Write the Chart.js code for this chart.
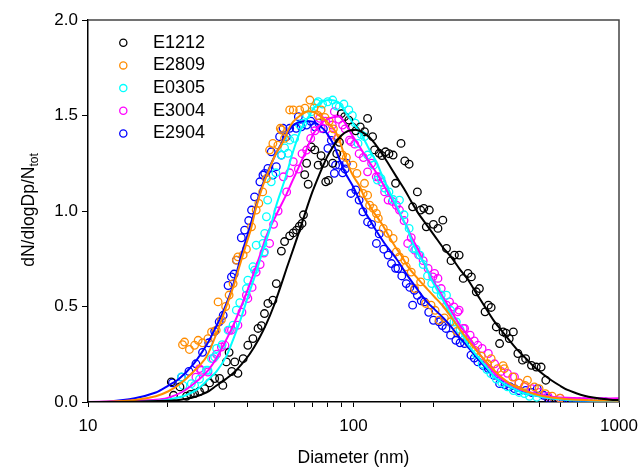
<!DOCTYPE html>
<html>
<head>
<meta charset="utf-8">
<script src="https://cdn.jsdelivr.net/npm/chart.js@4.4.1/dist/chart.umd.min.js"></script>
<style>
  html, body { margin: 0; padding: 0; background: #fff; }
  #wrap { width: 638px; height: 469px; }
</style>
</head>
<body>
<div id="wrap"><canvas id="psd" width="638" height="469"></canvas></div>
<script>
// Size distributions, normalised (dN/dlogDp/Ntot) vs mobility diameter in nm
const seriesNames = ["E1212", "E2809", "E0305", "E3004", "E2904"];
const seriesColors = ["#000000", "#FF8C00", "#00FFFF", "#FF00FF", "#0000FF"];
const xTickLabels = [10, 100, 1000];

// measured points [diameter, value]
const ptsE1212 = [[20.6,0.105],[21,0.035],[22.2,0.079],[23.5,0.03],[24.3,0.04],[25.2,0.044],[26.3,0.055],[27.5,0.07],[28.7,0.1],[30,0.123],[31.3,0.123],[32.2,0.087],[33.2,0.21],[34,0.26],[34.8,0.16],[35.7,0.21],[36.7,0.15],[38.4,0.227],[40,0.297],[41.8,0.332],[43.7,0.385],[45,0.4],[46.2,0.463],[47.6,0.516],[49.7,0.533],[51.2,0.62],[53.5,0.79],[55,0.84],[57.5,0.87],[59.3,0.885],[61,0.9],[62.5,0.92],[64,0.935],[64.8,0.98],[65.5,1.19],[66.6,1.25],[67.5,1.14],[69.3,1.335],[71.5,1.32],[73.6,1.24],[75.5,1.29],[77.5,1.25],[78.6,1.153],[80.5,1.16],[83.5,1.25],[86.5,1.3],[88.5,1.36],[90,1.51],[92.6,1.494],[96,1.476],[99,1.44],[102,1.42],[106,1.44],[110,1.415],[113,1.485],[118,1.389],[120,1.32],[125,1.302],[128,1.29],[132,1.31],[136,1.3],[141,1.293],[144,1.145],[151,1.354],[156,1.262],[162,1.245],[167,1.022],[174,1.1],[179,1.005],[184,1.014],[188,0.917],[193,1.005],[200,0.93],[208,0.909],[217,0.952],[224,0.804],[233,0.74],[240,0.769],[250,0.769],[259,0.647],[270,0.673],[278,0.655],[290,0.577],[298,0.594],[313,0.472],[322,0.507],[330,0.495],[345,0.393],[355,0.306],[366,0.367],[375,0.36],[386,0.332],[400,0.367],[416,0.254],[433,0.219],[445,0.227],[468,0.192],[488,0.183],[509,0.183],[530,0.114],[545,0.0],[558,0.0]];
const ptsE2809 = [[22.7,0.3],[23.1,0.314],[24.1,0.275],[25.2,0.297],[26,0.323],[27,0.31],[28.3,0.332],[29.2,0.367],[30.4,0.376],[30.9,0.524],[31.8,0.43],[33,0.5],[34,0.56],[35.2,0.62],[36.2,0.743],[36.7,0.76],[38.4,0.77],[39.5,0.8],[41.3,0.917],[43,1.005],[44,1.04],[45.5,1.1],[47,1.17],[48.3,1.319],[49.7,1.354],[51.9,1.345],[53,1.433],[53.5,1.424],[55,1.38],[57.5,1.529],[59.3,1.529],[62.7,1.529],[65.6,1.538],[68.5,1.581],[71,1.54],[73.5,1.5],[75.5,1.529],[78,1.49],[81,1.47],[84,1.43],[87,1.38],[91,1.293],[94,1.28],[99.5,1.24],[103,1.197],[108.7,1.092],[110,1.145],[113,1.083],[115,1.03],[118.7,1.014],[122,0.987],[124,0.961],[129.5,0.909],[135,0.883],[141,0.856],[145,0.786],[149,0.76],[156,0.743],[158,0.708],[165,0.68],[170,0.594],[179,0.629],[187,0.516],[196,0.507],[203,0.48],[210,0.428],[220,0.44],[232,0.42],[245,0.37],[258,0.35],[272,0.31],[287,0.27],[303,0.24],[320,0.2],[330,0.227],[349,0.175],[366,0.19],[370,0.175],[398,0.131],[420,0.1],[443,0.087],[452,0.114],[480,0.079],[500,0.07],[528,0.044],[560,0.03],[600,0.02]];
const ptsE0305 = [[22.5,0.131],[22.8,0.087],[24.5,0.096],[25.2,0.087],[26.3,0.12],[27.9,0.166],[28.3,0.166],[29.2,0.227],[30,0.236],[30.5,0.28],[32,0.3],[33.7,0.376],[35.2,0.402],[36.2,0.481],[37.3,0.52],[39.5,0.594],[40,0.638],[41.8,0.708],[42.4,0.69],[43,0.821],[45.6,0.83],[46.2,0.786],[46.3,0.883],[47,0.97],[47.5,1.057],[49,1.153],[51,1.2],[53.5,1.293],[55,1.33],[56.7,1.302],[57.5,1.371],[60,1.38],[62.7,1.45],[64.5,1.46],[66.6,1.503],[69.5,1.52],[72.6,1.564],[73.6,1.572],[76.5,1.56],[80,1.572],[83.5,1.581],[86,1.55],[88.4,1.546],[92,1.56],[96,1.529],[99,1.5],[101.5,1.46],[104,1.354],[107,1.4],[110,1.389],[113,1.293],[116,1.276],[119,1.24],[123,1.162],[127,1.17],[131,1.12],[136,1.1],[141,1.06],[149,1.057],[155,0.98],[162,0.909],[167,0.804],[172,0.8],[178,0.769],[183,0.72],[190,0.66],[197,0.62],[205,0.59],[214,0.56],[224,0.559],[232,0.48],[239,0.419],[244,0.419],[252,0.38],[262,0.33],[275,0.3],[290,0.25],[305,0.2],[318,0.17],[329,0.149],[345,0.12],[362,0.1],[380,0.079],[400,0.06],[420,0.05],[440,0.044],[460,0.03],[490,0.025]];
const ptsE3004 = [[25.5,0.13],[26.3,0.175],[26.7,0.166],[28.3,0.157],[29.6,0.227],[30.5,0.25],[31.8,0.288],[32.8,0.297],[34.1,0.376],[34.7,0.376],[36.7,0.402],[38,0.47],[39.5,0.559],[40,0.542],[41.5,0.6],[43,0.68],[44.5,0.72],[46,0.78],[48.3,0.83],[50,0.93],[52,1.0],[54.4,1.179],[56,1.1],[57.5,1.2],[59.3,1.258],[62,1.22],[64,1.3],[66.6,1.319],[69,1.38],[71.5,1.42],[74.5,1.485],[75.5,1.433],[78.5,1.47],[82.6,1.398],[83.2,1.45],[84.7,1.52],[88,1.48],[91,1.45],[93,1.43],[96.6,1.371],[97.8,1.363],[101,1.35],[105,1.3],[109,1.28],[113,1.205],[117,1.25],[121.8,1.179],[124,1.179],[128,1.15],[131,1.1],[135,1.057],[140,1.05],[145,1.03],[149,1.005],[155,0.95],[160,0.83],[165,0.86],[170,0.795],[176,0.77],[183,0.74],[191,0.699],[199,0.655],[202,0.673],[208,0.647],[214,0.594],[224,0.507],[230,0.524],[239,0.498],[247,0.472],[250,0.481],[259,0.385],[262,0.385],[275,0.35],[285,0.32],[294,0.297],[305,0.28],[322,0.254],[340,0.2],[360,0.16],[380,0.15],[404,0.131],[420,0.1],[440,0.08],[470,0.07],[500,0.05],[540,0.03],[600,0.02]];
const ptsE2904 = [[20.8,0.1],[22.5,0.13],[24,0.16],[25.5,0.2],[27,0.26],[28.5,0.31],[30,0.37],[31.2,0.42],[32.3,0.454],[33.7,0.61],[34.7,0.655],[35.5,0.67],[36.2,0.743],[37.8,0.86],[38.9,0.9],[40.3,0.95],[41.3,1.005],[42.4,1.074],[44.4,1.153],[45.6,1.188],[46.3,1.197],[47.6,1.223],[49,1.31],[49.7,1.188],[51.2,1.232],[52.7,1.389],[53.5,1.293],[54.3,1.433],[55.9,1.389],[57.5,1.433],[60.8,1.433],[62,1.494],[63.6,1.441],[66.6,1.45],[69,1.47],[71.5,1.441],[74,1.46],[77,1.43],[80.1,1.328],[82.5,1.37],[84.7,1.197],[85.6,1.24],[88.4,1.24],[91,1.2],[93,1.22],[94,1.25],[97.8,1.092],[102,1.11],[105,1.057],[108.5,0.996],[113,0.943],[117,0.93],[122,0.83],[125,0.88],[130,0.8],[135,0.769],[139,0.725],[144,0.7],[147,0.699],[152,0.66],[158,0.62],[163,0.6],[167,0.507],[169.5,0.585],[174,0.559],[180,0.53],[185,0.524],[192,0.47],[200,0.428],[210,0.42],[216,0.4],[223,0.385],[232,0.35],[243,0.323],[252,0.31],[262,0.306],[277,0.245],[285,0.23],[294,0.21],[308,0.19],[322,0.175],[338,0.14],[355,0.096],[372,0.09],[388,0.08],[404,0.07],[420,0.06],[445,0.061],[468,0.05],[492,0.07],[520,0.035],[540,0.02],[556,0.0],[580,0.0],[605,0.0],[630,0.0],[655,0.0],[680,0.0],[710,0.0],[740,0.0],[770,0.0],[800,0.0],[830,0.0],[860,0.0],[890,0.0]];

// fitted curves [diameter, value]
const fitE1212 = [[10,0],[15,0.001],[20,0.006],[22,0.01],[25,0.025],[28,0.05],[30.4,0.085],[33,0.12],[35.2,0.15],[38,0.2],[40.6,0.25],[44,0.33],[47,0.41],[50,0.5],[53,0.6],[56,0.7],[59.3,0.8],[62.7,0.9],[66.5,1.01],[70,1.1],[73.3,1.17],[77,1.24],[80,1.29],[85,1.35],[90,1.395],[95,1.418],[101,1.425],[105,1.42],[110,1.405],[115,1.385],[120,1.355],[128,1.3],[135,1.25],[145,1.18],[156,1.11],[165,1.05],[175,0.99],[188,0.93],[202,0.87],[217,0.81],[233,0.76],[250,0.7],[270,0.64],[290,0.57],[312,0.5],[336,0.43],[360,0.376],[388,0.32],[416,0.27],[448,0.225],[480,0.183],[518,0.145],[556,0.114],[600,0.085],[640,0.063],[690,0.046],[740,0.033],[800,0.023],[860,0.017],[930,0.012],[1000,0.01]];
const fitE2809 = [[10,0],[12,0.001],[15,0.01],[18,0.03],[20,0.055],[22,0.09],[25,0.16],[27.9,0.236],[30.5,0.36],[33,0.49],[35.2,0.6],[37,0.7],[39.5,0.83],[41,0.9],[43,1.02],[45.5,1.13],[48.3,1.223],[51,1.3],[54.3,1.363],[57,1.43],[59.3,1.468],[63,1.5],[66.5,1.52],[70,1.52],[72.6,1.51],[76,1.49],[79.3,1.468],[83,1.44],[86,1.41],[88.6,1.37],[92,1.3],[96.6,1.223],[100,1.18],[105.5,1.13],[110,1.07],[115,1.03],[118.7,0.996],[124,0.96],[129.5,0.92],[137,0.86],[145,0.804],[151,0.77],[160,0.71],[175,0.645],[190,0.59],[202,0.55],[218,0.5],[233,0.445],[250,0.385],[270,0.323],[290,0.27],[312,0.219],[335,0.172],[360,0.131],[390,0.095],[416,0.075],[450,0.055],[480,0.042],[520,0.03],[556,0.024],[640,0.015],[740,0.01],[860,0.008],[1000,0.007]];
const fitE0305 = [[10,0],[15,0.0],[18,0.005],[20,0.012],[22.8,0.03],[25,0.055],[26.3,0.075],[28,0.11],[30.5,0.16],[33.2,0.24],[35.5,0.34],[37.3,0.42],[40,0.55],[43,0.68],[45,0.77],[48.3,0.9],[51.2,1.03],[53.5,1.11],[55.9,1.19],[58,1.27],[60.8,1.36],[64,1.44],[68.4,1.503],[71,1.54],[74.5,1.564],[78,1.578],[81.4,1.581],[85,1.578],[88.6,1.565],[93,1.52],[97.8,1.476],[102,1.44],[106.6,1.407],[111,1.36],[116.7,1.302],[122,1.258],[126,1.21],[133,1.136],[140,1.07],[146.6,1.015],[153,0.96],[160,0.905],[165,0.85],[175,0.775],[185,0.725],[195,0.65],[205,0.594],[220,0.52],[237,0.437],[254,0.365],[270,0.3],[294,0.236],[318,0.18],[340,0.131],[365,0.1],[394,0.075],[430,0.05],[480,0.035],[556,0.018],[640,0.011],[740,0.008],[860,0.007],[1000,0.007]];
const fitE3004 = [[10,0],[12,0.003],[15,0.008],[18,0.012],[19.8,0.02],[22.8,0.055],[26.3,0.12],[28.5,0.17],[30.5,0.23],[33,0.32],[35.2,0.4],[38,0.51],[40,0.59],[42.5,0.69],[45,0.79],[47,0.87],[51.2,0.98],[56,1.09],[59,1.16],[62.7,1.24],[66,1.31],[68.5,1.363],[71,1.41],[74.5,1.45],[78,1.474],[81.4,1.485],[85,1.492],[88.6,1.494],[93,1.46],[97.8,1.407],[105,1.34],[113,1.27],[122,1.2],[131,1.127],[141,1.05],[151,0.97],[160,0.91],[165,0.865],[175,0.8],[183,0.734],[195,0.66],[211,0.577],[228,0.5],[244,0.43],[254,0.393],[275,0.33],[294,0.263],[318,0.2],[340,0.149],[365,0.115],[394,0.087],[430,0.062],[480,0.044],[520,0.035],[556,0.028],[640,0.022],[740,0.02],[860,0.019],[1000,0.019]];
const fitE2904 = [[10,0.0],[12,0.003],[15,0.02],[18,0.05],[20,0.085],[22,0.12],[25,0.2],[28,0.3],[30,0.38],[32,0.46],[35,0.6],[38,0.78],[40,0.88],[42,0.98],[45,1.12],[48,1.22],[51,1.3],[54.4,1.37],[57,1.42],[60,1.455],[64.6,1.47],[70,1.468],[74,1.45],[77,1.43],[80,1.4],[84,1.35],[88,1.28],[93,1.2],[99.5,1.13],[105,1.06],[110,1.0],[115,0.955],[122,0.895],[131,0.83],[145,0.75],[160,0.66],[175,0.585],[190,0.52],[202,0.485],[218,0.44],[233,0.395],[250,0.34],[270,0.288],[290,0.235],[312,0.185],[335,0.14],[360,0.105],[390,0.078],[420,0.058],[450,0.045],[480,0.035],[520,0.026],[560,0.018],[640,0.011],[740,0.007],[850,0.005],[1000,0.004]];

const pointSets = [ptsE1212, ptsE2809, ptsE0305, ptsE3004, ptsE2904];
const fitSets = [fitE1212, fitE2809, fitE0305, fitE3004, fitE2904];

const FONT = '"Liberation Sans", Arial, sans-serif';
const toXY = arr => arr.map(p => ({ x: p[0], y: p[1] }));

const datasets = [];
seriesNames.forEach((name, i) => {
  datasets.push({
    label: name,
    data: toXY(pointSets[i]),
    showLine: false,
    borderColor: seriesColors[i],
    backgroundColor: "rgba(0,0,0,0)",
    pointStyle: "circle",
    pointRadius: 3.8,
    pointBorderWidth: 1.3,
    order: 2
  });
  datasets.push({
    label: name + " fit",
    data: toXY(fitSets[i]),
    showLine: true,
    borderColor: seriesColors[i],
    borderWidth: 2,
    pointRadius: 0,
    tension: 0.3,
    fill: false,
    order: 1
  });
});

// frame, inside legend and y title with subscript
const decor = {
  id: "decor",
  afterDraw(chart) {
    const ctx = chart.ctx;
    const a = chart.chartArea;
    ctx.save();
    ctx.strokeStyle = "#444";
    ctx.lineWidth = 1.5;
    ctx.beginPath();
    ctx.moveTo(a.left, a.top);
    ctx.lineTo(a.right, a.top);
    ctx.lineTo(a.right, a.bottom);
    ctx.stroke();

    // legend
    ctx.font = "18px " + FONT;
    ctx.textBaseline = "middle";
    ctx.textAlign = "left";
    seriesNames.forEach((name, i) => {
      const y = 42.7 + i * 22.7;
      ctx.beginPath();
      ctx.arc(123.3, y, 3.6, 0, Math.PI * 2);
      ctx.strokeStyle = seriesColors[i];
      ctx.lineWidth = 1.3;
      ctx.stroke();
      ctx.fillStyle = "#000";
      ctx.fillText(name, 153, y);
    });

    // y axis title
    const main = "dN/dlogDp/N", sub = "tot";
    ctx.font = "17.5px " + FONT;
    const w1 = ctx.measureText(main).width;
    ctx.font = "12px " + FONT;
    const w2 = ctx.measureText(sub).width;
    ctx.translate(34, 210);
    ctx.rotate(-Math.PI / 2);
    ctx.textBaseline = "alphabetic";
    ctx.fillStyle = "#000";
    ctx.font = "17.5px " + FONT;
    ctx.fillText(main, -(w1 + w2) / 2, 0);
    ctx.font = "12px " + FONT;
    ctx.fillText(sub, -(w1 + w2) / 2 + w1, 4);
    ctx.restore();
  }
};

new Chart(document.getElementById("psd"), {
  type: "scatter",
  data: { datasets: datasets },
  options: {
    responsive: false,
    animation: false,
    devicePixelRatio: 1,
    layout: { padding: { top: 20, right: 19, left: 0, bottom: 0 } },
    plugins: { legend: { display: false }, tooltip: { enabled: false } },
    scales: {
      x: {
        type: "logarithmic",
        min: 10,
        max: 1000,
        afterFit(s) { s.height = 67; s.paddingLeft = 0; s.paddingRight = 0; },
        border: { color: "#000", width: 1.5 },
        grid: { drawOnChartArea: false, drawTicks: true, tickLength: 5, color: "#000" },
        ticks: {
          autoSkip: false,
          maxRotation: 0,
          padding: 9,
          color: "#000",
          font: { family: FONT, size: 17 },
          callback: v => xTickLabels.some(t => Math.abs(t - v) < 1e-6) ? String(v) : ""
        },
        title: {
          display: true,
          text: "Diameter (nm)",
          color: "#000",
          font: { family: FONT, size: 17.5 },
          padding: { top: 0, bottom: 0 }
        }
      },
      y: {
        min: 0,
        max: 2,
        afterFit(s) { s.width = 88; s.paddingTop = 0; s.paddingBottom = 0; },
        border: { color: "#000", width: 1.5 },
        grid: { drawOnChartArea: false, drawTicks: true, tickLength: 6, color: "#000" },
        ticks: {
          stepSize: 0.5,
          padding: 4,
          color: "#000",
          font: { family: FONT, size: 17 },
          callback: v => v.toFixed(1)
        }
      }
    }
  },
  plugins: [decor]
});
</script>
</body>
</html>
